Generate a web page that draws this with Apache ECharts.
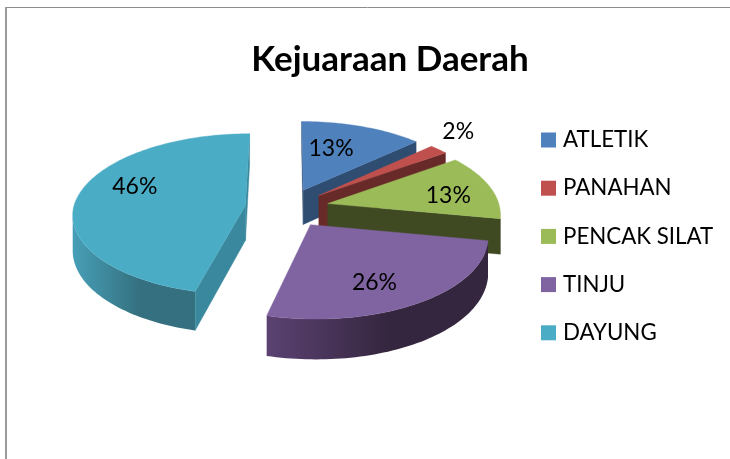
<!DOCTYPE html>
<html>
<head>
<meta charset="utf-8">
<style>html,body{margin:0;padding:0;background:#fff}#c{width:730px;height:459px}</style>
<script src="https://cdn.jsdelivr.net/npm/echarts@6/dist/echarts.min.js"></script>
</head>
<body>
<div id="c"></div>
<script>
const titleText = 'Kejuaraan Daerah';
const categories = ['ATLETIK', 'PANAHAN', 'PENCAK SILAT', 'TINJU', 'DAYUNG'];
const values = [13, 2, 13, 26, 46];

const topColors = ['#4F81BD', '#C0504D', '#9BBB59', '#8064A2', '#4BACC6'];
const cutColors = ['#2F4D71', '#682A28', '#3F4A23', '#4C3C61', '#3A889D'];
const wallLeft  = ['#3C618E', '#73302E', '#5D7035', '#5B4272', '#479FB7'];
const wallRight = ['#2F4D71', '#682A28', '#3F4A23', '#35263F', '#34707F'];
const labelOffsets = [[0.182, -0.586], [0.924, -0.907], [0.715, -0.098], [0.32, 0.637], [-0.669, -0.239]];

const CX = 287, LEAN = 20, CY = 207.8, RX = 172, RY = 80, PERSP = 0.11, EXPLODE = 0.244, DEPTH = 35;
const total = values.reduce((a, b) => a + b, 0);

function project(a, b, drop) {
  const s = 1 / (1 - PERSP * b);
  return [CX + RX * a * s + LEAN * Math.max(0, s - 1), CY + RY * b * s + (drop ? DEPTH * s : 0)];
}

function renderSlice(i) {
  const before = values.slice(0, i).reduce((a, b) => a + b, 0);
  const t0 = before / total * 2 * Math.PI;
  const t1 = (before + values[i]) / total * 2 * Math.PI;
  const mid = (t0 + t1) / 2;
  const oa = EXPLODE * Math.sin(mid), ob = -EXPLODE * Math.cos(mid);
  const steps = Math.max(4, Math.round((t1 - t0) * 40));
  const rim = [];
  for (let k = 0; k <= steps; k++) {
    const t = t0 + (t1 - t0) * k / steps;
    rim.push([oa + Math.sin(t), ob - Math.cos(t)]);
  }
  const apex = [oa, ob];
  const children = [];
  const base = (i + 1) * 10;
  const poly = (pts, fill, z) => ({
    type: 'polygon', z2: z, shape: { points: pts },
    style: { fill: fill, stroke: typeof fill === 'string' ? fill : null, lineWidth: 0.4 }
  });
  const cut = (p, q) => {
    const P = project(p[0], p[1]), Q = project(q[0], q[1]);
    if (Q[0] < P[0]) {
      children.push(poly([P, Q, project(q[0], q[1], true), project(p[0], p[1], true)], cutColors[i], base + 1));
    }
  };
  cut(apex, rim[0]);
  cut(rim[rim.length - 1], apex);
  const upper = [], lower = [];
  for (let k = 0; k < rim.length - 1; k++) {
    const P = project(rim[k][0], rim[k][1]), Q = project(rim[k + 1][0], rim[k + 1][1]);
    if (Q[0] < P[0]) {
      if (!upper.length) { upper.push(P); lower.push(project(rim[k][0], rim[k][1], true)); }
      upper.push(Q); lower.push(project(rim[k + 1][0], rim[k + 1][1], true));
    }
  }
  if (upper.length > 1) {
    children.push(poly(upper.concat(lower.reverse()), {
      type: 'linear', x: 0, y: 0, x2: 1, y2: 0,
      colorStops: [{ offset: 0, color: wallLeft[i] }, { offset: 0.55, color: wallRight[i] }, { offset: 1, color: wallRight[i] }]
    }, base));
  }
  children.push(poly([apex].concat(rim).map(p => project(p[0], p[1])), topColors[i], base + 2));
  const lp = project(oa + labelOffsets[i][0], ob + labelOffsets[i][1]);
  children.push({
    type: 'text', z2: 200, x: lp[0], y: lp[1],
    style: { text: values[i] + '%', fill: '#000', font: '23px Lato', align: 'center', verticalAlign: 'middle' }
  });
  return { type: 'group', children: children };
}

const chart = echarts.init(document.getElementById('c'), null, { renderer: 'canvas' });
chart.setOption({
  animation: false,
  backgroundColor: '#fff',
  color: topColors,
  title: {
    text: titleText, left: 385, top: 37, textAlign: 'center',
    textStyle: { fontFamily: 'Lato', fontWeight: 'bold', fontSize: 35, color: '#000' }
  },
  legend: {
    orient: 'vertical', left: 541, top: 126, padding: 0,
    data: categories, icon: 'rect', itemWidth: 15, itemHeight: 15, itemGap: 20.2,
    selectedMode: false,
    textStyle: { fontFamily: 'Lato', fontSize: 22.3, color: '#000', lineHeight: 28, padding: [0, 0, 0, 2] }
  },
  graphic: [
    { type: 'line', shape: { x1: 5, y1: 7.5, x2: 730, y2: 7.5 }, style: { stroke: '#8C8C8C', lineWidth: 1 }, silent: true },
    { type: 'line', shape: { x1: 6, y1: 7, x2: 6, y2: 459 }, style: { stroke: '#9A9A9A', lineWidth: 2 }, silent: true }
  ],
  series: categories.map((name, i) => ({
    type: 'custom', name: name, coordinateSystem: 'none', silent: true,
    data: [[values[i]]],
    renderItem: () => renderSlice(i)
  }))
});
</script>
</body>
</html>
